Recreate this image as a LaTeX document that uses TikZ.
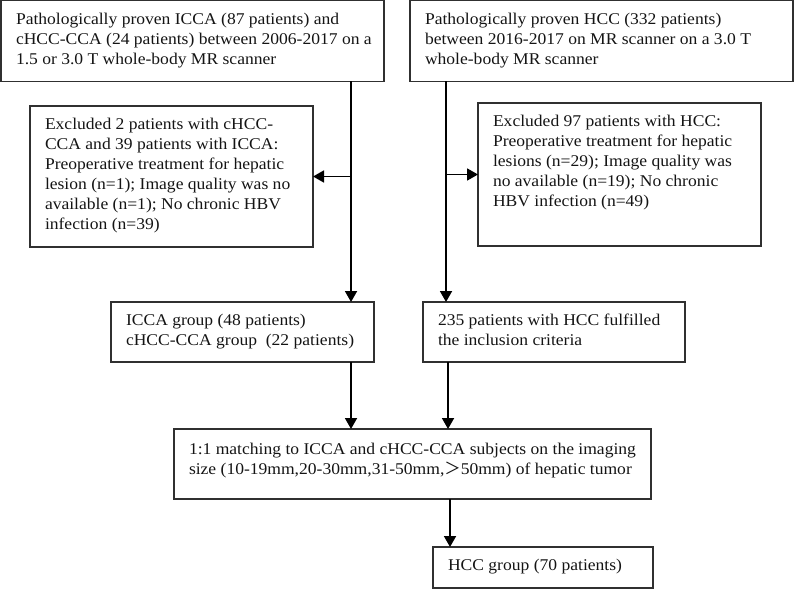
\documentclass[tikz,border=0pt]{standalone}
\usepackage{fontspec}
\setmainfont{Liberation Serif}[FakeStretch=1.07]
\newfontfamily\cjk{Noto Sans CJK SC}
\usetikzlibrary{arrows.meta}
\definecolor{boxline}{HTML}{303030}
\newcommand\bxt[4][23.5]{\parbox[c][#3bp][t]{\dimexpr#2bp-16bp\relax}{\raggedright\rule{0pt}{#1bp}#4}}
\tikzset{
  bx/.style={draw=boxline, line width=1.3bp, inner sep=0pt, outer sep=0pt, anchor=north west,
    align=left, font=\fontsize{16.4bp}{20bp}\selectfont, text=black!92, inner xsep=0pt},
  arr/.style={draw=black, line width=1.8bp, -{Triangle[length=11bp,width=12bp]}}
}
\begin{document}
\begin{tikzpicture}[x=1bp,y=-1bp]
\useasboundingbox (0,0) rectangle (795,590);
% boxes (text inset 15bp on the left)
\node[bx] (top1) at (1,0.7) {\hspace{15bp}\bxt{384}{80.5}{Pathologically proven ICCA (87 patients) and\\cHCC-CCA (24 patients) between 2006-2017 on a\\1.5 or 3.0 T whole-body MR scanner}};
\node[bx] (top2) at (410,0.7) {\hspace{15bp}\bxt{384}{80.5}{Pathologically proven HCC (332 patients)\\between 2016-2017 on MR scanner on a 3.0 T\\whole-body MR scanner}};
\node[bx] (exL) at (30,106) {\hspace{15bp}\bxt{284}{141}{Excluded 2 patients with cHCC-\\CCA and 39 patients with ICCA:\\Preoperative treatment for hepatic\\lesion (n=1); Image quality was no\\available (n=1); No chronic HBV\\infection (n=39)}};
\node[bx] (exR) at (478,103) {\hspace{15bp}\bxt{284}{143}{Excluded 97 patients with HCC:\\Preoperative treatment for hepatic\\lesions (n=29); Image quality was\\no available (n=19); No chronic\\HBV infection (n=49)}};
\node[bx] (icca) at (111,302) {\hspace{15bp}\bxt{264}{60}{ICCA group (48 patients)\\cHCC-CCA group\ \ (22 patients)}};
\node[bx] (hcc) at (423,302) {\hspace{15bp}\bxt{263}{60}{235 patients with HCC fulfilled\\the inclusion criteria}};
\node[bx] (match) at (174,429) {\hspace{15bp}\bxt[25]{478}{70}{1:1 matching to ICCA and cHCC-CCA subjects on the imaging\\size (10-19mm,20-30mm,31-50mm,{\cjk ＞}50mm) of hepatic tumor}};
\node[bx] (grp) at (433,547) {\hspace{15bp}\bxt{221}{41}{HCC group (70 patients)}};
% connector columns
\coordinate (cl) at (351,0);
\coordinate (cr) at (446,0);
\coordinate (cm1) at (351,0);
\coordinate (cm2) at (448,0);
\coordinate (cg) at (450,0);
% connectors
\draw[arr] (top1.south -| cl) -- (icca.north -| cl);
\draw[arr] (exL.east -| cl) -- (exL.east);
\draw[arr] (top2.south -| cr) -- (hcc.north -| cr);
\draw[arr] (exR.west -| cr) -- (exR.west);
\draw[arr] (icca.south -| cm1) -- (match.north -| cm1);
\draw[arr] (hcc.south -| cm2) -- (match.north -| cm2);
\draw[arr] (match.south -| cg) -- (grp.north -| cg);
\end{tikzpicture}
\end{document}
